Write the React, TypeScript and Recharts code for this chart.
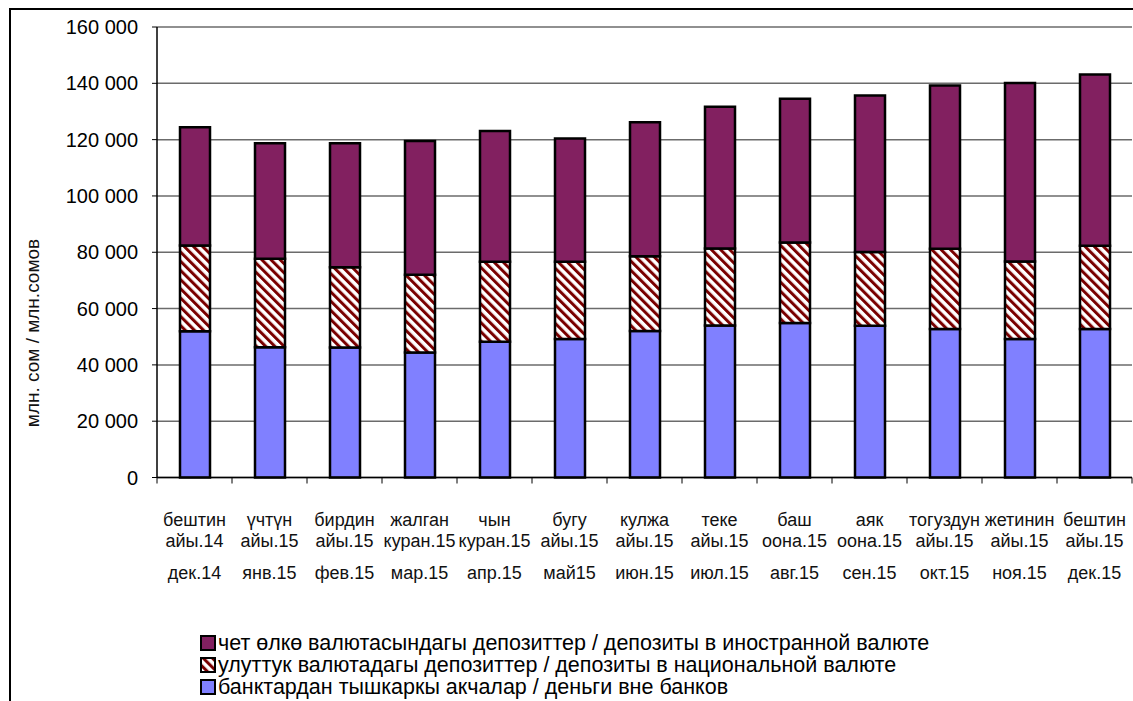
import { Bar, BarChart, CartesianGrid, Legend, XAxis, YAxis } from "recharts";

const monthsKg = [
  "бештин айы.14",
  "үчтүн айы.15",
  "бирдин айы.15",
  "жалган куран.15",
  "чын куран.15",
  "бугу айы.15",
  "кулжа айы.15",
  "теке айы.15",
  "баш оона.15",
  "аяк оона.15",
  "тогуздун айы.15",
  "жетинин айы.15",
  "бештин айы.15",
];
const monthsRu = [
  "дек.14", "янв.15", "фев.15", "мар.15", "апр.15", "май15", "июн.15",
  "июл.15", "авг.15", "сен.15", "окт.15", "ноя.15", "дек.15",
];

// млн. сом
const cash = [51900, 46300, 46200, 44400, 48200, 49200, 52000, 54000, 54900, 53900, 52700, 49200, 52700];
const national = [30500, 31400, 28500, 27600, 28400, 27400, 26600, 27300, 28600, 26200, 28500, 27500, 29600];
const foreign = [42000, 41000, 44000, 47500, 46500, 43800, 47600, 50400, 51000, 55600, 58000, 63400, 60800];

const yTicks = [0, 20000, 40000, 60000, 80000, 100000, 120000, 140000, 160000];

const seriesNames = {
  foreign: "чет өлкө валютасындагы депозиттер / депозиты в иностранной валюте",
  national: "улуттук валютадагы депозиттер / депозиты в национальной валюте",
  cash: "банктардан тышкаркы акчалар / деньги вне банков",
};

const data = monthsKg.map((kg, i) => ({
  kg,
  ru: monthsRu[i],
  cash: cash[i],
  national: national[i],
  foreign: foreign[i],
}));

const FONT = "'Liberation Sans', Arial, sans-serif";
const PURPLE = "#822060";
const BLUE = "#8080ff";
const HATCH = "#7a0000";
const BAND = 75;

const fmt = (v: number) => String(v).replace(/\B(?=(\d{3})+(?!\d))/g, " ");

function MonthTick(props: any) {
  const { x, y, payload, index } = props;
  const [l1, l2] = String(payload.value).split(" ");
  const ru = monthsRu[index];
  return (
    <g>
      <line x1={x - BAND / 2} x2={x - BAND / 2} y1={y} y2={y + 6} stroke="#000" strokeWidth={1} />
      {index === monthsKg.length - 1 && (
        <line x1={x + BAND / 2} x2={x + BAND / 2} y1={y} y2={y + 6} stroke="#000" strokeWidth={1} />
      )}
      <text x={x} y={y + 42.5} textAnchor="middle" dominantBaseline="central" fontSize={18} fill="#111" fontFamily={FONT}>
        {l1}
      </text>
      <text x={x} y={y + 63.5} textAnchor="middle" dominantBaseline="central" fontSize={18} fill="#111" fontFamily={FONT}>
        {l2}
      </text>
      <text x={x} y={y + 95} textAnchor="middle" dominantBaseline="central" fontSize={18} fill="#111" fontFamily={FONT}>
        {ru}
      </text>
    </g>
  );
}

function Marker({ kind }: { kind: string }) {
  return (
    <svg width={16} height={16} style={{ display: "block", flex: "none" }}>
      <defs>
        <pattern id="hatchLegend" patternUnits="userSpaceOnUse" width={6.5} height={6.5} patternTransform="rotate(-45)">
          <rect width={6.5} height={6.5} fill="#fff" />
          <rect width={3} height={6.5} fill={HATCH} />
        </pattern>
      </defs>
      <rect
        x={1}
        y={1}
        width={14}
        height={14}
        fill={kind === "foreign" ? PURPLE : kind === "cash" ? BLUE : "url(#hatchLegend)"}
        stroke="#000"
        strokeWidth={2}
      />
    </svg>
  );
}

function LegendBox() {
  const rows = ["foreign", "national", "cash"] as const;
  return (
    <div style={{ height: 70, fontFamily: FONT, fontSize: 21.5, color: "#000" }}>
      {rows.map((k) => (
        <div key={k} style={{ display: "flex", alignItems: "center", height: 22, lineHeight: "22px" }}>
          <Marker kind={k} />
          <span style={{ marginLeft: 2, whiteSpace: "nowrap" }}>{seriesNames[k]}</span>
        </div>
      ))}
    </div>
  );
}

export default function App() {
  return (
    <div style={{ position: "relative", width: 1133, height: 701, overflow: "hidden", background: "#fff" }}>
      <style>{`body{margin:0;overflow:hidden;background:#fff}`}</style>
      <div
        style={{
          position: "absolute",
          left: 9,
          top: 8,
          width: 1300,
          height: 900,
          borderLeft: "2px solid #000",
          borderTop: "2px solid #000",
        }}
      />
      <div style={{ position: "absolute", left: 0, top: 0 }}>
        <BarChart
          width={1133}
          height={701}
          data={data}
          margin={{ top: 27, right: 1, left: 57, bottom: 53.5 }}
          barSize={30}
        >
          <defs>
            <pattern id="hatch" patternUnits="userSpaceOnUse" width={6.5} height={6.5} patternTransform="rotate(-45)">
              <rect width={6.5} height={6.5} fill="#fff" />
              <rect width={3} height={6.5} fill={HATCH} />
            </pattern>
          </defs>
          <CartesianGrid vertical={false} stroke="#6b6b6b" strokeWidth={1.5} />
          <XAxis
            dataKey="kg"
            interval={0}
            height={100}
            tickSize={0}
            tickMargin={0}
            axisLine={{ stroke: "#000", strokeWidth: 1.5 }}
            tickLine={false}
            tick={<MonthTick />}
          />
          <YAxis
            width={100}
            domain={[0, 160000]}
            ticks={yTicks}
            interval={0}
            tickFormatter={fmt}
            tickSize={5}
            tickMargin={14}
            axisLine={{ stroke: "#000", strokeWidth: 1.5 }}
            tickLine={{ stroke: "#000" }}
            tick={{ fill: "#000", fontSize: 20, fontFamily: FONT }}
            label={{
              content: () => (
                <text
                  x={32}
                  y={333}
                  transform="rotate(-90, 32, 333)"
                  textAnchor="middle"
                  dominantBaseline="central"
                  fontSize={19}
                  fontFamily={FONT}
                  fill="#111"
                >
                  млн. сом / млн.сомов
                </text>
              ),
            }}
          />
          <Legend
            verticalAlign="bottom"
            content={<LegendBox />}
            wrapperStyle={{ top: 632, left: 200, width: 930 }}
          />
          <Bar dataKey="cash" name={seriesNames.cash} stackId="m" fill={BLUE} stroke="#000" strokeWidth={2.5} isAnimationActive={false} />
          <Bar dataKey="national" name={seriesNames.national} stackId="m" fill="url(#hatch)" stroke="#000" strokeWidth={2.5} isAnimationActive={false} />
          <Bar dataKey="foreign" name={seriesNames.foreign} stackId="m" fill={PURPLE} stroke="#000" strokeWidth={2.5} isAnimationActive={false} />
        </BarChart>
      </div>
    </div>
  );
}
